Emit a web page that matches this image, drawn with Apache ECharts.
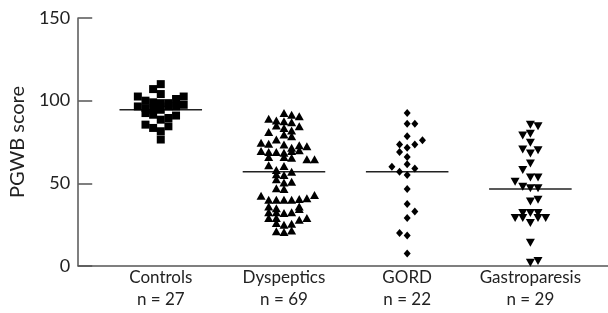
<!DOCTYPE html>
<html>
<head>
<meta charset="utf-8">
<script src="https://cdn.jsdelivr.net/npm/echarts@6/dist/echarts.min.js"></script>
<style>
  html, body { margin: 0; padding: 0; background: #fff; }
  #chart { width: 608px; height: 313px; }
</style>
</head>
<body>
<div id="chart"></div>
<script>
// groups and their n
var groups = ['Controls', 'Dyspeptics', 'GORD', 'Gastroparesis'];
var counts = [27, 69, 22, 29];
var medians = [94.5, 57, 57, 46.5];
var yTicks = [0, 50, 100, 150];

// PGWB scores, with the column each marker sits in (beeswarm)
var controlsScore = [110, 107, 104, 102.5, 100, 99, 98.5, 98.5, 101, 102.5, 96.5, 95.5, 94.5, 94.5, 96.5, 96.5, 97.5, 92.5, 91.5, 88.5, 89.5, 91, 85.5, 83.5, 81.5, 84.5, 76.5];
var controlsCol   = [0, -1, 0, -3, -2, -1, 0, 1, 2, 3, -3, -2, -1, 0, 1, 2, 3, -2, -1, 0, 1, 2, -2, -1, 0, 1, 0];

var dyspScore = [92.5, 91.5, 90.5, 89, 88, 87.5, 87, 84.5, 85, 83.5, 82, 81, 79.5, 78.5, 76.5,
                 74.5, 74, 73.5, 73, 72.5, 71.5, 69.5, 69, 69, 68.5, 69.5, 70, 66, 66, 65.5, 64.5, 64.5,
                 61, 60.5, 58, 57,
                 55.5, 55, 52.5, 51, 50.5, 47, 46.5, 42.5, 43, 40, 40, 40, 40, 40.5, 41, 36, 34.5,
                 32.5, 32.5, 32, 32.5, 29, 29, 28, 29, 26, 25, 25.5, 21, 20.5, 21.5, 36, 35];
var dyspCol   = [0, 1, 2, -2, -1, 0, 1, 2, -1, 0, 1, -2, 0, 1, -1,
                 -3, -2, 0, 2, 3, 1, -3, -2, -1, 0, 1, 2, -2, 0, 1, 3, 4,
                 -2, 0, -1, 1,
                 -1, 0, -1, 1, 0, -1, 0, -3, 4, -2, -1, 0, 1, 2, 3, 2, 2,
                 -2, -1, 0, 1, -2, -1, 2, 3, -1, 0, 1, -1, 0, 1, -2, -1];

var gordScore = [92.5, 86, 86, 78.5, 76, 73.5, 73.5, 71.5, 69, 66, 61.5, 60, 59, 57, 55, 46.5, 37.5, 33, 29, 20, 18.5, 7.5];
var gordCol   = [0, 0, 1, 0, 2, -1, 1, 0, -1, 0, 0, -2, 1, -1, 0, 0, 0, 1, 0, -1, 0, 0];

var gastroScore = [85.5, 84.5, 79, 80, 74.5, 70.5, 70, 68, 62, 58, 53.5, 53.5, 51, 48, 47, 47, 39, 40,
                   32, 32, 29, 29, 29, 29, 26, 14, 2, 3, 32];
var gastroCol   = [0, 1, -1, 0, 0, -1, 1, 0, 0, -1, 0, 1, -2, -1, 0, 1, 0, 1,
                   -1, 1, -2, -1, 1, 2, 0, 0, 0, 1, 0];

var scores = [controlsScore, dyspScore, gordScore, gastroScore];
var cols = [controlsCol, dyspCol, gordCol, gastroCol];
var symbols = ['rect', 'triangle', 'diamond', 'triangle'];
var sizes = [[8, 8], [9, 8], [7, 8], [9, 8]];
var rotates = [0, 0, 0, 180];

var slot = 0.062;      // width of one beeswarm column (x units)
var halfLine = 0.335;  // half length of median bar

var series = [];
for (var g = 0; g < groups.length; g++) {
    var pts = [];
    for (var i = 0; i < scores[g].length; i++) {
        pts.push([g + 1 + cols[g][i] * slot, scores[g][i]]);
    }
    series.push({
        type: 'scatter',
        data: pts,
        symbol: symbols[g],
        symbolSize: sizes[g],
        symbolRotate: rotates[g],
        itemStyle: { color: '#000', opacity: 1 },
        silent: true,
        z: 3
    });
    series.push({
        type: 'line',
        data: [[g + 1 - halfLine, medians[g]], [g + 1 + halfLine, medians[g]]],
        symbol: 'none',
        lineStyle: { color: '#222', width: 1.5 },
        silent: true,
        z: 2
    });
}

var chart = echarts.init(document.getElementById('chart'));
var option = {
    animation: false,
    backgroundColor: '#fff',
    grid: { left: 75, right: 0, top: 18, bottom: 47 },
    xAxis: {
        type: 'value',
        min: 0.33,
        max: 4.63,
        splitLine: { show: false },
        axisTick: { show: false },
        axisLine: { show: true, onZero: false, lineStyle: { color: '#555', width: 1.5 } },
        axisLabel: {
            customValues: [1, 2, 3, 4],
            margin: 1,
            color: '#222',
            fontFamily: 'Lato',
            fontSize: 17,
            lineHeight: 22,
            formatter: function (v) {
                var k = Math.round(v) - 1;
                return groups[k] + '\nn = ' + counts[k];
            }
        }
    },
    yAxis: {
        type: 'value',
        min: 0,
        max: 150,
        interval: 50,
        name: 'PGWB score',
        nameLocation: 'middle',
        nameGap: 46,
        nameTextStyle: { color: '#222', fontFamily: 'Lato', fontSize: 20, fontWeight: 'normal' },
        splitLine: { show: false },
        axisLine: { show: true, lineStyle: { color: '#555', width: 1.5 } },
        axisTick: { show: true, inside: true, length: 14, lineStyle: { color: '#555', width: 1.5 } },
        axisLabel: {
            color: '#222',
            fontFamily: 'Lato',
            fontSize: 18,
            margin: 8,
            formatter: function (v) { return yTicks.indexOf(v) >= 0 ? String(v) : ''; }
        }
    },
    series: series
};
chart.setOption(option);
</script>
</body>
</html>
